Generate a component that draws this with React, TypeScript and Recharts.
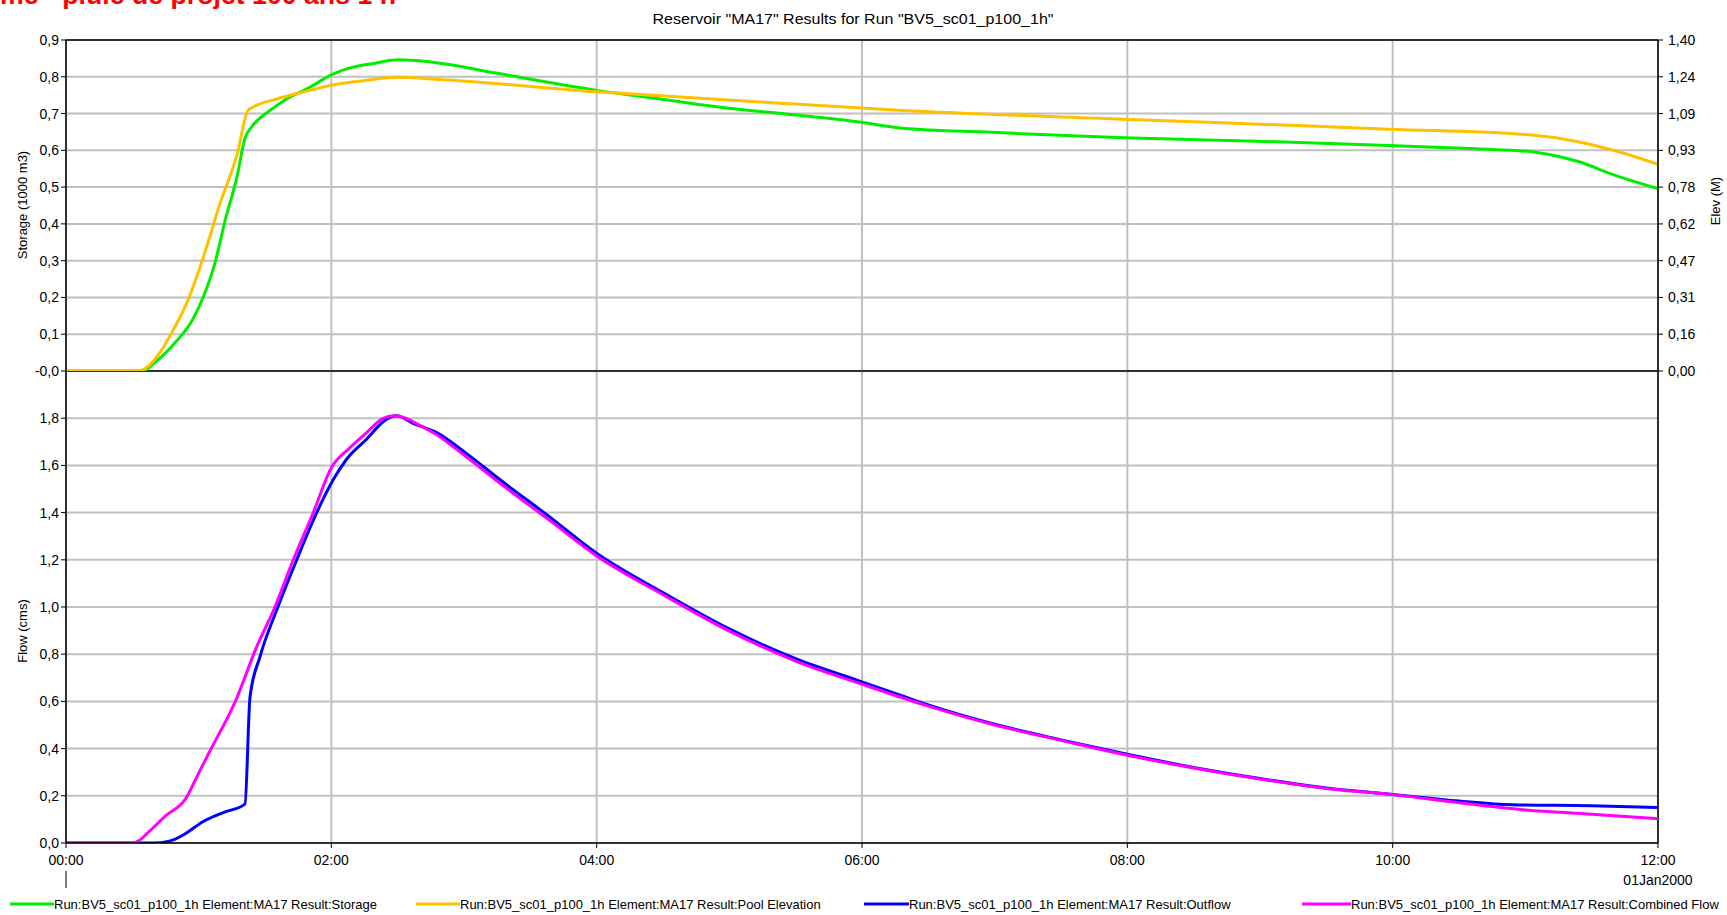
import React from 'react';
import { LineChart, Line, XAxis, YAxis, CartesianGrid, ReferenceLine } from 'recharts';

// ---- data (hours since 00:00) ----
const storageT = [0, 0.58, 0.66, 0.83, 0.955, 1.04, 1.12, 1.2, 1.29, 1.35, 1.4, 1.54, 1.66, 1.83, 2.0, 2.12, 2.33, 2.5, 2.82, 3.24, 4.0, 4.49, 4.98, 5.48, 5.98, 6.31, 6.98, 7.97, 8.97, 9.97, 10.63, 11.05, 11.25, 11.44, 11.63, 12.0];
const storageV = [0, 0, 0.02, 0.08, 0.14, 0.206, 0.29, 0.41, 0.53, 0.634, 0.664, 0.709, 0.739, 0.77, 0.805, 0.822, 0.837, 0.846, 0.837, 0.81, 0.763, 0.739, 0.715, 0.697, 0.677, 0.66, 0.649, 0.634, 0.625, 0.613, 0.604, 0.596, 0.583, 0.565, 0.538, 0.496];

const elevT = [0, 0.55, 0.62, 0.71, 0.81, 0.92, 1.04, 1.16, 1.29, 1.37, 1.41, 1.58, 1.83, 2.0, 2.24, 2.5, 2.82, 4.0, 5.32, 6.31, 7.97, 9.33, 9.97, 11.05, 11.38, 11.71, 12.0];
const elevV = [0, 0, 0.02, 0.08, 0.175, 0.3, 0.49, 0.707, 0.916, 1.1, 1.116, 1.149, 1.186, 1.209, 1.228, 1.242, 1.233, 1.181, 1.135, 1.102, 1.065, 1.037, 1.023, 0.998, 0.972, 0.926, 0.874];

const outflowT = [0, 0.65, 0.78, 0.884, 1.035, 1.186, 1.349, 1.387, 1.462, 1.588, 1.739, 1.889, 2.015, 2.115, 2.266, 2.417, 2.493, 2.62, 2.794, 3.02, 3.27, 3.65, 4.0, 4.5, 5.0, 5.5, 6.0, 6.31, 6.5, 7.0, 7.5, 8.0, 8.5, 9.0, 9.5, 10.0, 10.5, 10.9, 11.5, 12.0];
const outflowV = [0, 0, 0.008, 0.034, 0.091, 0.129, 0.165, 0.618, 0.789, 0.987, 1.2, 1.399, 1.54, 1.626, 1.711, 1.796, 1.81, 1.777, 1.739, 1.65, 1.54, 1.38, 1.228, 1.061, 0.907, 0.781, 0.683, 0.622, 0.585, 0.503, 0.437, 0.376, 0.32, 0.273, 0.233, 0.206, 0.178, 0.162, 0.158, 0.15];

const combinedT = [0, 0.5, 0.55, 0.63, 0.75, 0.9, 1.0, 1.085, 1.274, 1.437, 1.575, 1.713, 1.864, 2.0, 2.14, 2.266, 2.39, 2.47, 2.543, 2.66, 2.794, 3.02, 3.27, 3.65, 4.0, 4.5, 5.0, 5.5, 6.0, 6.5, 7.0, 7.5, 8.0, 8.5, 9.0, 9.5, 10.0, 10.5, 11.0, 11.5, 12.0];
const combinedV = [0, 0, 0.01, 0.05, 0.115, 0.186, 0.296, 0.39, 0.597, 0.831, 1.0, 1.2, 1.4, 1.59, 1.675, 1.739, 1.799, 1.81, 1.803, 1.772, 1.73, 1.635, 1.525, 1.365, 1.216, 1.052, 0.898, 0.771, 0.673, 0.58, 0.5, 0.435, 0.372, 0.318, 0.271, 0.231, 0.205, 0.17, 0.14, 0.122, 0.103];

const hourTicks = [0, 2, 4, 6, 8, 10, 12];
const storageTicks = [0, 0.1, 0.2, 0.3, 0.4, 0.5, 0.6, 0.7, 0.8, 0.9];
const elevTicks = [0, 0.1556, 0.3111, 0.4667, 0.6222, 0.7778, 0.9333, 1.0889, 1.2444, 1.4];
const flowTicks = [0, 0.2, 0.4, 0.6, 0.8, 1.0, 1.2, 1.4, 1.6, 1.8];

const titleText = 'Reservoir "MA17" Results for Run "BV5_sc01_p100_1h"';
const headerText = 'me - pluie de projet 100 ans 1 h';
const dateLabel = '01Jan2000';
const legendNames = [
  'Run:BV5_sc01_p100_1h Element:MA17 Result:Storage',
  'Run:BV5_sc01_p100_1h Element:MA17 Result:Pool Elevation',
  'Run:BV5_sc01_p100_1h Element:MA17 Result:Outflow',
  'Run:BV5_sc01_p100_1h Element:MA17 Result:Combined Flow',
];

const toData = (t: number[], v: number[]) => t.map((x, i) => ({ t: x, v: v[i] }));
const storageData = toData(storageT, storageV);
const elevData = toData(elevT, elevV);
const outflowData = toData(outflowT, outflowV);
const combinedData = toData(combinedT, combinedV);

const FONT = '"Liberation Sans", Arial, Helvetica, sans-serif';
const C_STORAGE = '#00ee00';
const C_ELEV = '#ffc000';
const C_OUT = '#0000ff';
const C_COMB = '#ff00ff';
const GRID = '#c0c0c0';
const LW = 3;

const comma = (s: string) => s.replace('.', ',');
const fmtStorage = (v: number) => (v === 0 ? '-0,0' : comma(v.toFixed(1)));
const fmtElev = (v: number) => comma(v.toFixed(2));
const fmtFlow = (v: number) => comma(v.toFixed(1));
const fmtHour = (v: number) => `${String(v).padStart(2, '0')}:00`;

const tickStyle = { fontSize: 14, fill: '#000', fontFamily: FONT };

const XTick = (props: any) => {
  const { x, y, payload } = props;
  const v = payload.value;
  return (
    <g>
      <text x={x} y={y + 15} textAnchor="middle" fontSize={14} fontFamily={FONT} fill="#000">
        {fmtHour(v)}
      </text>
      {v === 12 && (
        <text x={x} y={y + 35} textAnchor="middle" fontSize={14} fontFamily={FONT} fill="#000">
          {dateLabel}
        </text>
      )}
      {v === 0 && <line x1={x} x2={x} y1={y + 21} y2={y + 38} stroke="#000" strokeWidth={1} />}
    </g>
  );
};

const legendX = [10, 416, 864, 1302];
const legendColors = [C_STORAGE, C_ELEV, C_OUT, C_COMB];
const legendLineLen = [44, 44, 45, 49];

export default function App() {
  return (
    <div style={{ position: 'absolute', left: 0, top: 0, width: 1727, height: 915, background: '#fff', overflow: 'hidden' }}>
      <div style={{ position: 'absolute', left: 0, top: 371 }}>
        <LineChart width={1727} height={544} margin={{ top: 0, right: 69, bottom: 32, left: 0 }}>
          <CartesianGrid xAxisId="x" yAxisId="f" stroke={GRID} strokeWidth={2} />
          <XAxis
            xAxisId="x"
            dataKey="t"
            type="number"
            domain={[0, 12]}
            ticks={hourTicks}
            interval={0}
            height={40}
            tick={<XTick />}
            tickSize={5}
            tickLine={{ stroke: '#000' }}
            axisLine={{ stroke: '#000', strokeWidth: 1.5 }}
            allowDataOverflow
          />
          <YAxis
            yAxisId="f"
            orientation="left"
            width={66}
            type="number"
            domain={[0, 2]}
            ticks={flowTicks}
            interval={0}
            tickFormatter={fmtFlow}
            tick={tickStyle}
            tickSize={5}
            tickLine={{ stroke: '#000' }}
            axisLine={{ stroke: '#000', strokeWidth: 1.5 }}
            allowDataOverflow
          />
          <ReferenceLine xAxisId="x" yAxisId="f" x={12} stroke="#000" strokeWidth={1.5} />
          <ReferenceLine xAxisId="x" yAxisId="f" y={2} stroke="#000" strokeWidth={1.5} />
          <Line xAxisId="x" yAxisId="f" data={outflowData} dataKey="v" type="monotone" stroke={C_OUT} strokeWidth={LW} dot={false} activeDot={false} isAnimationActive={false} />
          <Line xAxisId="x" yAxisId="f" data={combinedData} dataKey="v" type="monotone" stroke={C_COMB} strokeWidth={LW} dot={false} activeDot={false} isAnimationActive={false} />
        </LineChart>
      </div>

      <div style={{ position: 'absolute', left: 0, top: 0 }}>
        <LineChart width={1727} height={390} margin={{ top: 40, right: 0, bottom: 19, left: 0 }}>
          <CartesianGrid xAxisId="x" yAxisId="s" stroke={GRID} strokeWidth={2} />
          <XAxis xAxisId="x" dataKey="t" type="number" domain={[0, 12]} ticks={hourTicks} hide allowDataOverflow />
          <YAxis
            yAxisId="s"
            orientation="left"
            width={66}
            type="number"
            domain={[0, 0.9]}
            ticks={storageTicks}
            interval={0}
            tickFormatter={fmtStorage}
            tick={tickStyle}
            tickSize={5}
            tickLine={{ stroke: '#000' }}
            axisLine={{ stroke: '#000', strokeWidth: 1.5 }}
            allowDataOverflow
          />
          <YAxis
            yAxisId="e"
            orientation="right"
            width={69}
            type="number"
            domain={[0, 1.4]}
            ticks={elevTicks}
            interval={0}
            tickFormatter={fmtElev}
            tick={tickStyle}
            tickSize={5}
            tickMargin={5}
            tickLine={{ stroke: '#000' }}
            axisLine={{ stroke: '#000', strokeWidth: 1.5 }}
            allowDataOverflow
          />
          <ReferenceLine xAxisId="x" yAxisId="s" y={0.9} stroke="#000" strokeWidth={1.5} />
          <ReferenceLine xAxisId="x" yAxisId="s" y={0} stroke="#000" strokeWidth={1.5} />
          <Line xAxisId="x" yAxisId="s" data={storageData} dataKey="v" type="monotone" stroke={C_STORAGE} strokeWidth={LW} dot={false} activeDot={false} isAnimationActive={false} />
          <Line xAxisId="x" yAxisId="e" data={elevData} dataKey="v" type="monotone" stroke={C_ELEV} strokeWidth={LW} dot={false} activeDot={false} isAnimationActive={false} />
        </LineChart>
      </div>

      <svg width={1727} height={915} style={{ position: 'absolute', left: 0, top: 0, pointerEvents: 'none' }}>
        <text x={0} y={4} fontSize={26} fontWeight="bold" fill="#ff0000" fontFamily={FONT} textLength={396} lengthAdjust="spacingAndGlyphs">
          {headerText}
        </text>
        <text x={853} y={24} fontSize={15} textAnchor="middle" fill="#000" fontFamily={FONT} textLength={401} lengthAdjust="spacingAndGlyphs">
          {titleText}
        </text>
        <text x={0} y={0} fontSize={13} textAnchor="middle" fill="#000" fontFamily={FONT} transform="translate(27 205) rotate(-90)">
          Storage (1000 m3)
        </text>
        <text x={0} y={0} fontSize={13} textAnchor="middle" fill="#000" fontFamily={FONT} transform="translate(27 631) rotate(-90)">
          Flow (cms)
        </text>
        <text x={0} y={0} fontSize={13} textAnchor="middle" fill="#000" fontFamily={FONT} transform="translate(1720 201) rotate(-90)">
          Elev (M)
        </text>
        {legendNames.map((name, i) => (
          <g key={name}>
            <line x1={legendX[i]} x2={legendX[i] + legendLineLen[i]} y1={904} y2={904} stroke={legendColors[i]} strokeWidth={3} />
            <text x={legendX[i] + legendLineLen[i]} y={908.5} fontSize={13} fill="#000" fontFamily={FONT}>
              {name}
            </text>
          </g>
        ))}
      </svg>
    </div>
  );
}
